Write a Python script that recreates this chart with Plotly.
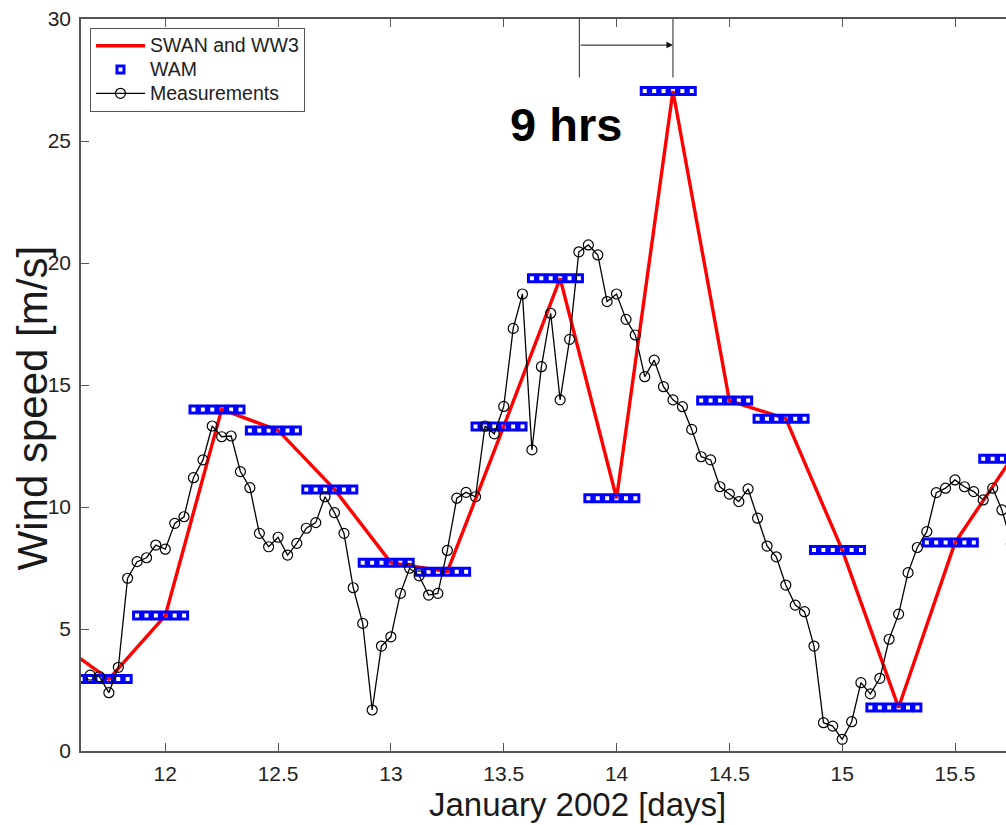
import plotly.graph_objects as go

# ---------------- data ----------------
meas_t = [11.667, 11.708, 11.750, 11.792, 11.833, 11.875, 11.917, 11.958,
          12.000, 12.042, 12.083, 12.125, 12.167, 12.208, 12.250, 12.292,
          12.333, 12.375, 12.417, 12.458, 12.500, 12.542, 12.583, 12.625,
          12.667, 12.708, 12.750, 12.792, 12.833, 12.875, 12.917, 12.958,
          13.000, 13.042, 13.083, 13.125, 13.167, 13.208, 13.250, 13.292,
          13.333, 13.375, 13.417, 13.458, 13.500, 13.542, 13.583, 13.625,
          13.667, 13.708, 13.750, 13.792, 13.833, 13.875, 13.917, 13.958,
          14.000, 14.042, 14.083, 14.125, 14.167, 14.208, 14.250, 14.292,
          14.333, 14.375, 14.417, 14.458, 14.500, 14.542, 14.583, 14.625,
          14.667, 14.708, 14.750, 14.792, 14.833, 14.875, 14.917, 14.958,
          15.000, 15.042, 15.083, 15.125, 15.167, 15.208, 15.250, 15.292,
          15.333, 15.375, 15.417, 15.458, 15.500, 15.542, 15.583, 15.625,
          15.667, 15.708, 15.750]
meas_v = [3.11, 3.05, 2.39, 3.43, 7.08, 7.76, 7.92, 8.44,
          8.27, 9.33, 9.60, 11.20, 11.93, 13.32, 12.88, 12.91,
          11.45, 10.79, 8.92, 8.37, 8.76, 8.03, 8.51, 9.13,
          9.36, 10.42, 9.77, 8.92, 6.69, 5.23, 1.68, 4.30,
          4.68, 6.46, 7.49, 7.18, 6.39, 6.46, 8.22, 10.36,
          10.60, 10.42, 13.32, 13.00, 14.12, 17.32, 18.73, 12.34,
          15.75, 17.94, 14.39, 16.87, 20.46, 20.74, 20.33, 18.42,
          18.73, 17.69, 17.05, 15.34, 16.02, 14.93, 14.39, 14.11,
          13.18, 12.06, 11.93, 10.83, 10.53, 10.22, 10.74, 9.54,
          8.40, 7.96, 6.80, 5.98, 5.71, 4.30, 1.16, 1.02,
          0.48, 1.20, 2.80, 2.34, 2.98, 4.58, 5.61, 7.31,
          8.34, 8.99, 10.59, 10.77, 11.11, 10.83, 10.63, 10.29,
          10.77, 9.88, 8.50]

wam_t = [11.50, 11.75, 12.00, 12.25, 12.50, 12.75, 13.00, 13.25, 13.50,
         13.75, 14.00, 14.25, 14.50, 14.75, 15.00, 15.25, 15.50, 15.75]
wam_v = [4.60, 2.95, 5.55, 14.00, 13.14, 10.72, 7.72, 7.35, 13.30,
         19.37, 10.36, 27.05, 14.36, 13.62, 8.24, 1.78, 8.54, 11.98]
wam_hour_offsets = [-3, -2, -1, 0, 1, 2]   # hourly samples held from each 6-h WAM value

x_ticks = [12, 12.5, 13, 13.5, 14, 14.5, 15, 15.5]
x_ticktext = ["12", "12.5", "13", "13.5", "14", "14.5", "15", "15.5"]
y_ticks = [0, 5, 10, 15, 20, 25, 30]
x_range = [11.6265, 15.726]
y_range = [0, 30]

lag_start, lag_end = 13.835, 14.25   # the "9 hrs" lag bracket (days)
lag_label = "9 hrs"

# ---------------- figure ----------------
FONT = "Arial, Liberation Sans, sans-serif"

wam_x = [t + k / 24.0 for t in wam_t for k in wam_hour_offsets]
wam_y = [v for v in wam_v for _ in wam_hour_offsets]


def leg(name):
    return '<span style="font-size:19.5px">%s</span>' % name


fig = go.Figure()
fig.add_trace(go.Scatter(
    x=wam_t, y=wam_v, mode="lines", name=leg("SWAN and WW3"),
    line=dict(color="#ff0000", width=3.4)))
fig.add_trace(go.Scatter(
    x=wam_x, y=wam_y, mode="markers", name=leg("WAM"),
    marker=dict(symbol="square-open", size=7, color="#0000ff",
                line=dict(width=3, color="#0000ff"))))
fig.add_trace(go.Scatter(
    x=meas_t, y=meas_v, mode="lines+markers", name=leg("Measurements"),
    line=dict(color="#000000", width=1.3),
    marker=dict(symbol="circle-open", size=10, color="#000000",
                line=dict(width=1.2, color="#000000"))))

# lag bracket
for xv in (lag_start, lag_end):
    fig.add_shape(type="line", xref="x", yref="y", x0=xv, x1=xv, y0=27.6, y1=30,
                  line=dict(color="#222222", width=1))
fig.add_annotation(x=lag_end, y=28.93, ax=lag_start, ay=28.93,
                   xref="x", yref="y", axref="x", ayref="y",
                   text="", showarrow=True, arrowhead=2, arrowsize=1.3,
                   arrowwidth=1, arrowcolor="#111111", standoff=0, startstandoff=0)
fig.add_annotation(x=13.777, y=25.66, xref="x", yref="y", text="<b>%s</b>" % lag_label,
                   showarrow=False, font=dict(family=FONT, size=47, color="#000000"))

# axis titles as annotations for precise placement
fig.add_annotation(x=13.825, y=0, xref="x", yref="paper", xanchor="center",
                   yanchor="bottom", yshift=-74,
                   text="January 2002 [days]", showarrow=False,
                   font=dict(family=FONT, size=33, color="#1a1a1a"))
fig.add_annotation(x=-0.053, y=0.468, xref="paper", yref="paper", textangle=-90,
                   xanchor="center", yanchor="middle",
                   text="Wind speed [m/s]", showarrow=False,
                   font=dict(family=FONT, size=42, color="#1a1a1a"))

fig.update_layout(
    width=1006, height=825,
    margin=dict(l=81, r=0, t=19, b=74),
    paper_bgcolor="white", plot_bgcolor="white",
    font=dict(family=FONT, size=21, color="#222222"),
    showlegend=True,
    legend=dict(x=0.0097, y=0.988, xanchor="left", yanchor="top",
                bgcolor="white", bordercolor="#555555", borderwidth=1,
                font=dict(family=FONT, size=16, color="#222222"),
                itemwidth=49, tracegroupgap=0),
    xaxis=dict(range=x_range, tickvals=x_ticks, ticktext=x_ticktext,
               ticks="inside", ticklen=8, tickcolor="#555555", tickwidth=1,
               showline=True, linecolor="#555555", linewidth=1.5, mirror="ticks",
               showgrid=False, zeroline=False, ticklabelstandoff=3),
    yaxis=dict(range=y_range, tickvals=y_ticks,
               ticks="inside", ticklen=8, tickcolor="#555555", tickwidth=1,
               showline=True, linecolor="#555555", linewidth=1.5, mirror=False,
               showgrid=False, zeroline=False, ticklabelstandoff=4),
)

fig.write_html("out.html")
